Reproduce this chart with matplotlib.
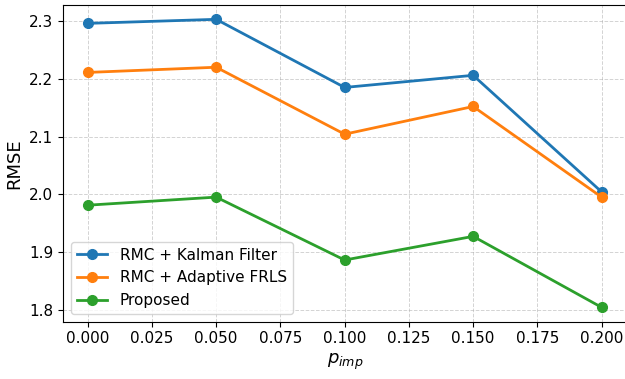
import matplotlib
matplotlib.use("Agg")
import matplotlib.pyplot as plt

# impulsive noise probability vs RMSE for the three estimators
p_imp = [0.0, 0.05, 0.10, 0.15, 0.20]
rmse_kalman = [2.296, 2.303, 2.185, 2.206, 2.004]
rmse_frls = [2.211, 2.220, 2.104, 2.152, 1.995]
rmse_proposed = [1.981, 1.995, 1.886, 1.927, 1.804]

fig = plt.figure(figsize=(6.25, 3.79), dpi=100)
ax = fig.add_axes([0.1008, 0.151, 0.905, 0.836])

ax.plot(p_imp, rmse_kalman, marker='o', linewidth=2, markersize=7, label='RMC + Kalman Filter')
ax.plot(p_imp, rmse_frls, marker='o', linewidth=2, markersize=7, label='RMC + Adaptive FRLS')
ax.plot(p_imp, rmse_proposed, marker='o', linewidth=2, markersize=7, label='Proposed')

ax.set_xlim(-0.0096, 0.2105)
ax.set_xlabel(r'$p_{imp}$', fontsize=13)
ax.set_ylabel('RMSE', fontsize=13)
ax.set_xticks([0.0, 0.025, 0.05, 0.075, 0.1, 0.125, 0.15, 0.175, 0.2])
ax.set_yticks([1.8, 1.9, 2.0, 2.1, 2.2, 2.3])
ax.tick_params(labelsize=11)
ax.grid(True, linestyle='--', linewidth=0.7, alpha=0.55)
ax.legend(loc='lower left', fontsize=11)

fig.savefig('out.png', dpi=100)
